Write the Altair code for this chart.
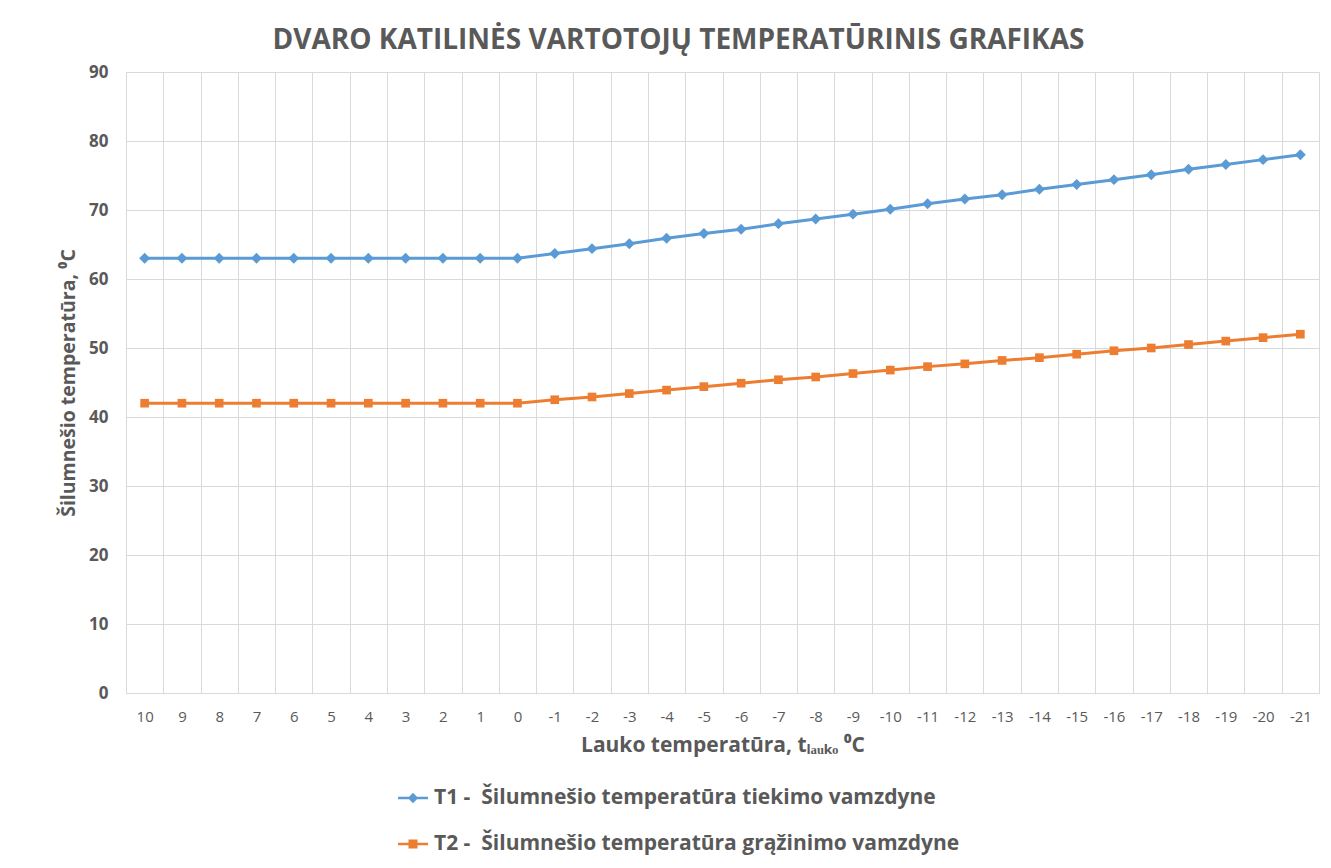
import altair as alt
import pandas as pd

labels = ["10", "9", "8", "7", "6", "5", "4", "3", "2", "1", "0",
          "-1", "-2", "-3", "-4", "-5", "-6", "-7", "-8", "-9", "-10",
          "-11", "-12", "-13", "-14", "-15", "-16", "-17", "-18", "-19", "-20", "-21"]

t1 = [63, 63, 63, 63, 63, 63, 63, 63, 63, 63, 63,
      63.7, 64.4, 65.1, 65.9, 66.6, 67.2, 68.0, 68.7, 69.4, 70.1,
      70.9, 71.6, 72.2, 73.0, 73.7, 74.4, 75.1, 75.9, 76.6, 77.3, 78.0]

t2 = [42, 42, 42, 42, 42, 42, 42, 42, 42, 42, 42,
      42.5, 42.9, 43.4, 43.9, 44.4, 44.9, 45.4, 45.8, 46.3, 46.8,
      47.3, 47.7, 48.2, 48.6, 49.1, 49.6, 50.0, 50.5, 51.0, 51.5, 52.0]

series_names = ["T1 - \u00a0Šilumnešio temperatūra tiekimo vamzdyne",
                "T2 - \u00a0Šilumnešio temperatūra grąžinimo vamzdyne"]
colors = ["#5B9BD5", "#ED7D31"]
shapes = ["diamond", "square"]
sizes = [120, 75]
legend_shapes = ["M-1,-0.08H1V0.08H-1ZM0,-0.35L0.35,0L0,0.35L-0.35,0Z",
                 "M-1,-0.08H1V0.08H-1ZM-0.3,-0.3H0.3V0.3H-0.3Z"]

rows = []
for name, vals in zip(series_names, [t1, t2]):
    for lab, v in zip(labels, vals):
        rows.append({"x": lab, "series": name, "value": v})
df = pd.DataFrame(rows)

FONT = "Open Sans"
GRAY = "#595959"
GRID = "#d9d9d9"

x_axis = alt.Axis(
    title="Lauko temperatūra, tₗₐᵤₖₒ ⁰C",
    titleFont=FONT, titleFontSize=21, titleFontWeight="bold", titleColor=GRAY,
    titlePadding=10,
    labelFont=FONT, labelFontSize=15, labelColor=GRAY, labelAngle=0,
    labelPadding=16, labelAlign="center",
    tickBand="extent",
    ticks=False, grid=True, gridColor=GRID, gridWidth=1,
    domain=True, domainColor=GRID, domainWidth=1,
)
y_axis = alt.Axis(
    title="Šilumnešio temperatūra, ⁰C",
    titleFont=FONT, titleFontSize=19.5, titleFontWeight="bold", titleColor=GRAY,
    titlePadding=10,
    labelFont=FONT, labelFontSize=17, labelFontWeight="bold", labelColor=GRAY,
    labelPadding=18,
    values=list(range(0, 91, 10)),
    ticks=False, domain=False, grid=True, gridColor=GRID, gridWidth=1,
)

x_enc = alt.X("x:O", sort=labels, bandPosition=0.5,
              scale=alt.Scale(type="band", paddingInner=0, paddingOuter=0),
              axis=x_axis)
y_enc = alt.Y("value:Q", scale=alt.Scale(domain=[0, 90], nice=False), axis=y_axis)

legend = alt.Legend(
    title=None, orient="none", legendX=272, legendY=711, direction="vertical",
    labelFont=FONT, labelFontSize=21, labelFontWeight="bold", labelColor=GRAY,
    labelLimit=0,
    symbolSize=900, symbolStrokeWidth=0, symbolOpacity=1,
    rowPadding=21, labelOffset=6,
)

color_scale = alt.Scale(domain=series_names, range=colors)

base = alt.Chart(df)
lines = base.mark_line(strokeWidth=3).encode(
    x=x_enc, y=y_enc, color=alt.Color("series:N", scale=color_scale, legend=None))
points = base.mark_point(filled=True, opacity=1).encode(
    x=x_enc, y=y_enc,
    color=alt.Color("series:N", scale=color_scale, legend=None),
    shape=alt.Shape("series:N", scale=alt.Scale(domain=series_names, range=shapes), legend=None),
    size=alt.Size("series:N", scale=alt.Scale(domain=series_names, range=sizes), legend=None),
)
legend_layer = base.transform_filter("false").mark_point(filled=True, opacity=1).encode(
    x=x_enc, y=y_enc,
    color=alt.Color("series:N", scale=color_scale, legend=legend),
    shape=alt.Shape("series:N", scale=alt.Scale(domain=series_names, range=legend_shapes),
                    legend=legend),
)

chart = alt.layer(lines, points, legend_layer).resolve_scale(
    shape="independent", color="independent"
).properties(
    width=1193, height=621,
    title=alt.TitleParams(
        "DVARO KATILINĖS VARTOTOJŲ TEMPERATŪRINIS GRAFIKAS",
        font=FONT, fontSize=28, fontWeight="bold", color=GRAY,
        anchor="middle", dx=-44, offset=8,
    ),
    autosize=alt.AutoSizeParams(type="none"),
    padding={"left": 118, "top": 64, "right": 4, "bottom": 174},
    background="white",
).configure_view(stroke=GRID, strokeWidth=1)

chart.save("out.html", embed_options={"renderer": "svg", "actions": False})
